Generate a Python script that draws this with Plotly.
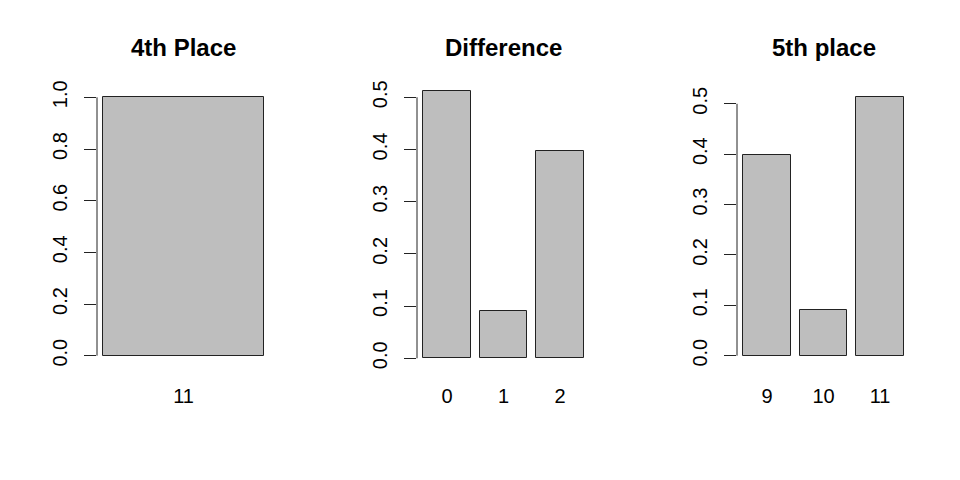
import plotly.graph_objects as go

# ---- data ----
titles = ["4th Place", "Difference", "5th place"]
p1_labels = ["11"]
p1_values = [1.0]
diff_labels = ["0", "1", "2"]
diff_values = [0.5128, 0.0897, 0.3975]
p5_labels = ["9", "10", "11"]
p5_values = [0.3975, 0.0897, 0.5128]
p1_ticks = [0.0, 0.2, 0.4, 0.6, 0.8, 1.0]
p23_ticks = [0.0, 0.1, 0.2, 0.3, 0.4, 0.5]

panels = [
    (p1_labels, p1_values, p1_ticks, [-0.04, 1.04]),
    (diff_labels, diff_values, p23_ticks, [-0.0148, 0.5197]),
    (p5_labels, p5_values, p23_ticks, [-0.0205, 0.5333]),
]

W, H = 960, 480
OFF = 8  # page body margin offset
FONT = "Liberation Sans, Arial, sans-serif"
x_doms = [[(97 - OFF) / W, (270 - OFF) / W],
          [(417 - OFF) / W, (590 - OFF) / W],
          [(737 - OFF) / W, (910 - OFF) / W]]
y_dom = [(H - (366 - OFF)) / H, (H - (87 - OFF)) / H]

fig = go.Figure()
for i, (labs, vals, ticks, yr) in enumerate(panels):
    n = len(vals)
    xs = [0.7 + 1.2 * k for k in range(n)]
    ax = "" if i == 0 else str(i + 1)
    fig.add_trace(go.Bar(
        x=xs, y=vals, width=[1.0] * n,
        marker=dict(color="#BEBEBE", line=dict(color="#222222", width=1)),
        xaxis="x" + ax, yaxis="y" + ax, showlegend=False, hoverinfo="skip",
    ))
    span = 1.2 * n - 0.2
    xr = [0.2 - 0.04 * span, 1.2 * n + 0.04 * span]
    fig.layout["xaxis" + ax] = dict(
        domain=x_doms[i], range=xr, anchor="y" + ax, automargin=False,
        tickvals=xs, ticktext=labs, showgrid=False, zeroline=False,
        showline=False, ticks="", ticklabelstandoff=16,
        tickfont=dict(family=FONT, size=20, color="black"),
    )
    fig.layout["yaxis" + ax] = dict(
        domain=y_dom, range=yr, anchor="x" + ax, automargin=False,
        tickvals=ticks, ticktext=["%.1f" % t for t in ticks],
        showgrid=False, zeroline=False, showline=False,
        ticks="outside", ticklen=12, tickwidth=1, tickcolor="#222222",
        tickangle=-90, ticklabelstandoff=9,
        tickfont=dict(family=FONT, size=20, color="black"),
    )
    # axis line spanning the tick range only (R style)
    fig.add_shape(type="line", xref=("x" + ax) + " domain", yref="y" + ax,
                  x0=0, x1=0, y0=ticks[0], y1=ticks[-1],
                  line=dict(color="#222222", width=1))
    fig.add_annotation(text="<b>%s</b>" % titles[i], xref="paper", yref="paper",
                       x=sum(x_doms[i]) / 2, y=1 - (47 - OFF) / H, xanchor="center",
                       yanchor="middle", showarrow=False,
                       font=dict(family=FONT, size=24, color="black"))

fig.update_layout(
    width=W, height=H, margin=dict(l=0, r=0, t=0, b=0, autoexpand=False),
    paper_bgcolor="white", plot_bgcolor="white", bargap=0,
)
fig.write_html("out.html")
